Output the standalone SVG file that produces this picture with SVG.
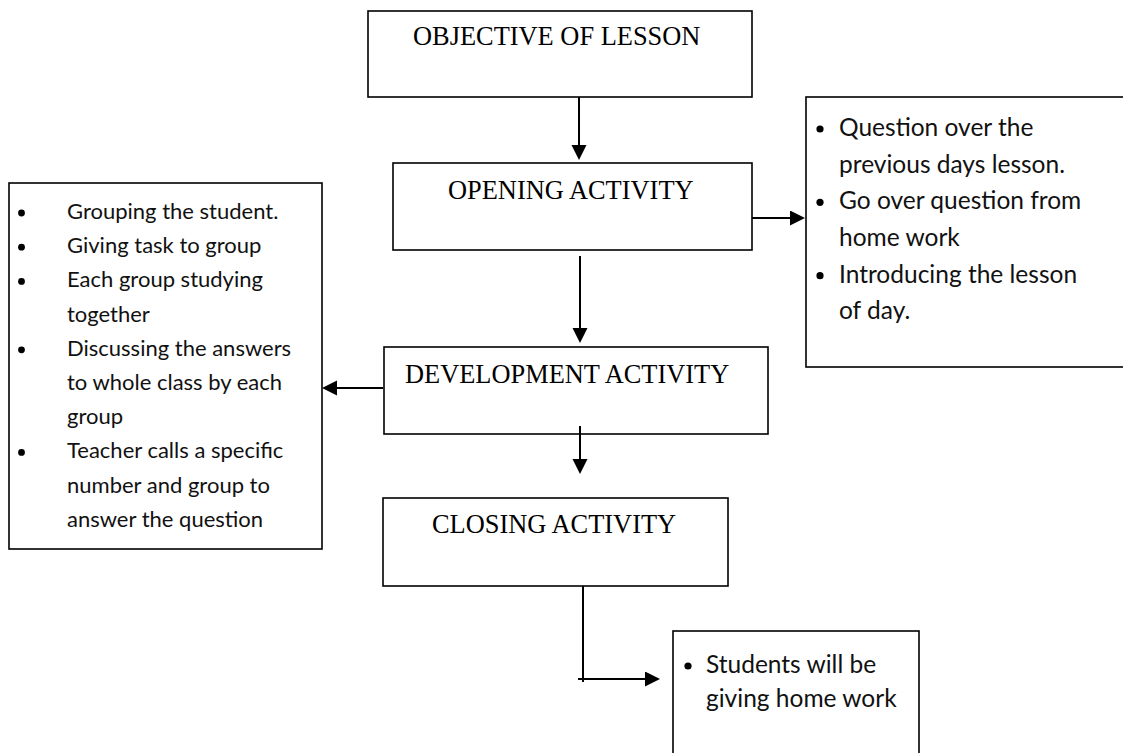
<svg xmlns="http://www.w3.org/2000/svg" width="1123" height="753" viewBox="0 0 1123 753">
<defs>
<marker id="ah" markerUnits="userSpaceOnUse" markerWidth="16" markerHeight="16" refX="13" refY="7.5" orient="auto">
<path d="M0,0 L15,7.5 L0,15 Z" fill="#000"/>
</marker>
<style>
.box{fill:#fff;stroke:#000;stroke-width:1.6}
.t{font-family:"Liberation Serif","Times New Roman",serif;font-size:26.4px;fill:#000}
.b{font-family:Lato,"Open Sans",sans-serif;font-size:22px;fill:#111}
.bl{font-family:Lato,"Open Sans",sans-serif;font-size:24.5px;fill:#111}
.dot{fill:#000}
.c{fill:none;stroke:#000;stroke-width:2}
.ca{fill:none;stroke:#000;stroke-width:2;marker-end:url(#ah)}
</style>
</defs>
<rect width="1123" height="753" fill="#fff"/>
<g id="objective">
<rect class="box" x="368" y="11" width="384" height="86"/>
<text class="t" x="413" y="45">OBJECTIVE OF LESSON</text>
</g>
<g id="opening">
<rect class="box" x="393" y="163" width="359" height="87"/>
<text class="t" x="448" y="199">OPENING ACTIVITY</text>
</g>
<g id="development">
<rect class="box" x="384" y="347" width="384" height="87"/>
<text class="t" x="405" y="383">DEVELOPMENT ACTIVITY</text>
</g>
<g id="closing">
<rect class="box" x="383" y="498" width="345" height="88"/>
<text class="t" x="432" y="533">CLOSING ACTIVITY</text>
</g>
<g id="opening-tasks">
<rect class="box" x="806" y="97" width="330" height="270"/>
<circle class="dot" cx="820" cy="129" r="3.6"/>
<text class="bl" x="839" y="136">Question over the</text>
<text class="bl" x="839" y="172.7">previous days lesson.</text>
<circle class="dot" cx="820" cy="202.3" r="3.6"/>
<text class="bl" x="839" y="209.3">Go over question from</text>
<text class="bl" x="839" y="246">home work</text>
<circle class="dot" cx="820" cy="275.7" r="3.6"/>
<text class="bl" x="839" y="282.7">Introducing the lesson</text>
<text class="bl" x="839" y="319.3">of day.</text>
</g>
<g id="development-tasks">
<rect class="box" x="9" y="183" width="313" height="366"/>
<circle class="dot" cx="21.5" cy="213" r="3.4"/>
<text class="b" x="67" y="219">Grouping the student.</text>
<circle class="dot" cx="21.5" cy="247.2" r="3.4"/>
<text class="b" x="67" y="253.2">Giving task to  group</text>
<circle class="dot" cx="21.5" cy="281.4" r="3.4"/>
<text class="b" x="67" y="287.4">Each group studying</text>
<text class="b" x="67" y="321.6">together</text>
<circle class="dot" cx="21.5" cy="349.8" r="3.4"/>
<text class="b" x="67" y="355.8">Discussing the answers</text>
<text class="b" x="67" y="390">to whole class by each</text>
<text class="b" x="67" y="424.2">group</text>
<circle class="dot" cx="21.5" cy="452.4" r="3.4"/>
<text class="b" x="67" y="458.4">Teacher calls a specific</text>
<text class="b" x="67" y="492.6">number and group to</text>
<text class="b" x="67" y="526.8">answer the question</text>
</g>
<g id="closing-tasks">
<rect class="box" x="673" y="631" width="246" height="140"/>
<circle class="dot" cx="688" cy="666" r="3.6"/>
<text class="bl" x="706" y="673">Students will be</text>
<text class="bl" x="706" y="707">giving home work</text>
</g>
<g id="connectors">
<line class="ca" x1="579" y1="97" x2="579" y2="158"/>
<line class="ca" x1="580" y1="256" x2="580" y2="341"/>
<line class="ca" x1="752" y1="218" x2="803" y2="218"/>
<line class="ca" x1="383" y1="388" x2="324" y2="388"/>
<line class="ca" x1="580" y1="426" x2="580" y2="472"/>
<line class="c" x1="583" y1="586" x2="583" y2="682"/>
<line class="ca" x1="578" y1="679" x2="658" y2="679"/>
</g>
</svg>
